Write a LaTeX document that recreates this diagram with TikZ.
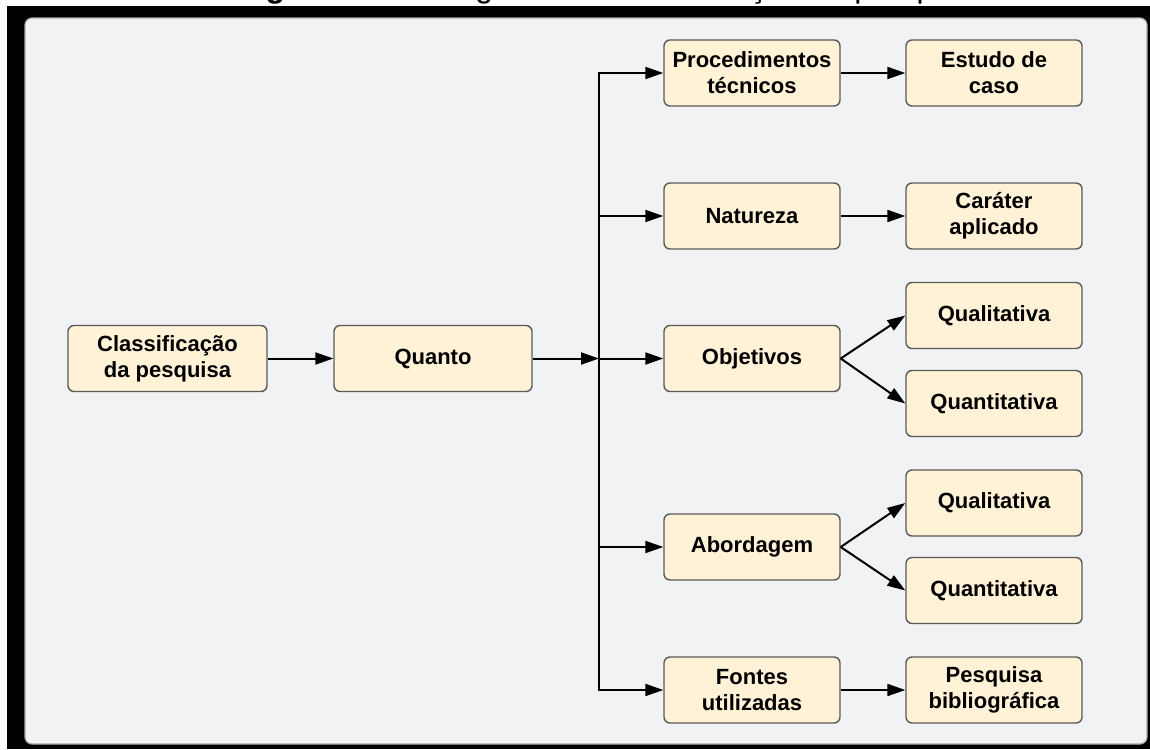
\documentclass[tikz,border=0pt]{standalone}
\usepackage{fontspec}
\setmainfont{Liberation Sans}
\usepackage{tikz}
\usetikzlibrary{arrows.meta}
\definecolor{boxfill}{HTML}{FFF2D6}
\definecolor{boxline}{HTML}{5A5A5A}
\definecolor{panelfill}{HTML}{F1F2F4}
\definecolor{panelline}{HTML}{A8A8A8}
\tikzset{
  box/.style={draw=boxline, fill=boxfill, line width=1.4pt, rounded corners=6pt,
    minimum width=176pt, minimum height=66pt, align=center, inner sep=0pt,
    font=\fontsize{22}{26}\selectfont\bfseries},
  arr/.style={line width=2pt, -{Triangle[length=18pt,width=12pt]}},
}

\begin{document}
\begin{tikzpicture}[x=1pt,y=-1pt]
  \useasboundingbox (0,0) rectangle (1150,749);
  \fill[white] (0,0) rectangle (1150,749);
  \begin{scope}
    \clip (0,0) rectangle (1150,6);
    \node[anchor=base west, inner sep=0pt, font=\fontsize{32}{36}\selectfont] (caption) at (237,-2)
      {\textbf{Figura 1} – Fluxograma de classificação da pesquisa};
  \end{scope}
  \fill[black] (7,6) rectangle (1150,749);
  \draw[panelline, fill=panelfill, line width=1.2pt, rounded corners=7pt] (25,18) rectangle (1147,744);

  \node[box, minimum width=199pt] (classif) at (167.5,358.5) {Classificação\\da pesquisa};
  \node[box, minimum width=198pt] (quanto)  at (433,358.5)   {Quanto};

  \node[box] (proced)   at (752,73)    {Procedimentos\\técnicos};
  \node[box] (natureza) at (752,216)   {Natureza};
  \node[box] (objet)    at (752,358.5) {Objetivos};
  \node[box] (abord)    at (752,547)   {Abordagem};
  \node[box] (fontes)   at (752,690)   {Fontes\\utilizadas};

  \node[box] (estudo)   at (994,73)    {Estudo de\\caso};
  \node[box] (carater)  at (994,216)   {Caráter\\aplicado};
  \node[box] (qualiA)   at (994,315.5) {Qualitativa};
  \node[box] (quantiA)  at (994,403.5) {Quantitativa};
  \node[box] (qualiB)   at (994,503)   {Qualitativa};
  \node[box] (quantiB)  at (994,590.5) {Quantitativa};
  \node[box] (biblio)   at (994,690)   {Pesquisa\\bibliográfica};

  \coordinate (trunk) at (599,358.5);

  \draw[arr] (classif) -- (quanto);
  \draw[arr] (quanto) -- (trunk);
  \draw[arr] (trunk) |- (proced.west);
  \draw[arr] (trunk) |- (natureza.west);
  \draw[arr] (trunk) -- (objet.west);
  \draw[arr] (trunk) |- (abord.west);
  \draw[arr] (trunk) |- (fontes.west);

  \draw[arr] (proced) -- (estudo);
  \draw[arr] (natureza) -- (carater);
  \draw[arr] (objet.east) -- (qualiA.west);
  \draw[arr] (objet.east) -- (quantiA.west);
  \draw[arr] (abord.east) -- (qualiB.west);
  \draw[arr] (abord.east) -- (quantiB.west);
  \draw[arr] (fontes) -- (biblio);
\end{tikzpicture}
\end{document}
